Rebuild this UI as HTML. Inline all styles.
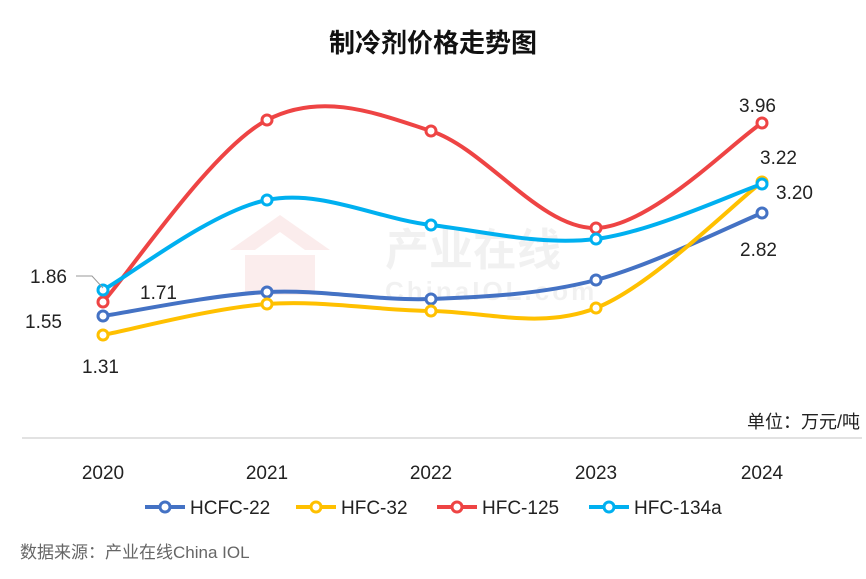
<!DOCTYPE html>
<html><head><meta charset="utf-8"><style>
body{margin:0;background:#fff;}
svg{display:block;font-family:"Liberation Sans","Noto Sans CJK SC",sans-serif;}
</style></head><body>
<svg id="s" width="866" height="579" viewBox="0 0 866 579">
<rect width="866" height="579" fill="#fff"/>
<text x="433" y="52" text-anchor="middle" font-size="26" font-weight="bold" fill="#111">制冷剂价格走势图</text>
<g opacity="0.07" fill="#c00">
<path d="M230 250 L280 215 L330 250 L305 250 L280 232 L255 250Z"/>
<rect x="245" y="255" width="70" height="40"/>
</g>
<text x="385" y="265" font-size="44" font-weight="bold" fill="#000" opacity="0.05">产业在线</text>
<text x="385" y="300" font-size="26" font-weight="bold" fill="#000" opacity="0.05" letter-spacing="3">ChinaIOL.com</text>
<line x1="22" y1="438" x2="862" y2="438" stroke="#d9d9d9" stroke-width="1.5"/>
<g font-size="19" fill="#222" text-anchor="middle">
<text x="103" y="479">2020</text><text x="267" y="479">2021</text><text x="431" y="479">2022</text><text x="596" y="479">2023</text><text x="762" y="479">2024</text>
</g>
<text x="860" y="428" font-size="18" fill="#222" text-anchor="end">单位：万元/吨</text>
<g id="lines"></g>
<g font-size="19" fill="#222">
<text x="30" y="283">1.86</text>
<polyline points="76,276 92,276 103,288" fill="none" stroke="#999" stroke-width="1"/>
<text x="140" y="299">1.71</text>
<text x="25" y="328">1.55</text>
<text x="82" y="373">1.31</text>
<text x="739" y="112">3.96</text>
<text x="760" y="164">3.22</text>
<text x="776" y="199">3.20</text>
<text x="740" y="256">2.82</text>
</g>
<g font-size="19" fill="#222">
<line x1="145" y1="507" x2="185" y2="507" stroke="#4472C4" stroke-width="4"/><circle cx="165" cy="507" r="5" fill="#fff" stroke="#4472C4" stroke-width="3"/><text x="190" y="514">HCFC-22</text>
<line x1="296" y1="507" x2="336" y2="507" stroke="#FFC000" stroke-width="4"/><circle cx="316" cy="507" r="5" fill="#fff" stroke="#FFC000" stroke-width="3"/><text x="341" y="514">HFC-32</text>
<line x1="437" y1="507" x2="477" y2="507" stroke="#EE4444" stroke-width="4"/><circle cx="457" cy="507" r="5" fill="#fff" stroke="#EE4444" stroke-width="3"/><text x="482" y="514">HFC-125</text>
<line x1="589" y1="507" x2="629" y2="507" stroke="#00B0F0" stroke-width="4"/><circle cx="609" cy="507" r="5" fill="#fff" stroke="#00B0F0" stroke-width="3"/><text x="634" y="514">HFC-134a</text>
</g>
<text x="20" y="558" font-size="17" fill="#666">数据来源：产业在线China IOL</text>
</svg>
<script>
var xs=[103,267,431,596,762];
var S=[["#4472C4",[316,292,299,280,213]],["#FFC000",[335,304,311,308,182]],["#EE4444",[302,120,131,228,123]],["#00B0F0",[290,200,225,239,184]]];
var g=document.getElementById("lines"),ns="http://www.w3.org/2000/svg",h="";
S.forEach(function(s){var y=s[1],p=[];for(var i=0;i<5;i++)p.push([xs[i],y[i]]);
var d="M"+p[0][0]+" "+p[0][1],t=0.5;
for(var i=0;i<4;i++){var p0=p[Math.max(i-1,0)],p1=p[i],p2=p[i+1],p3=p[Math.min(i+2,4)];
var c1=[p1[0]+(p2[0]-p0[0])*t/3,p1[1]+(p2[1]-p0[1])*t/3],c2=[p2[0]-(p3[0]-p1[0])*t/3,p2[1]-(p3[1]-p1[1])*t/3];
d+=" C"+c1+" "+c2+" "+p2;}
h+='<path d="'+d+'" fill="none" stroke="'+s[0]+'" stroke-width="4"/>';
p.forEach(function(q){h+='<circle cx="'+q[0]+'" cy="'+q[1]+'" r="5" fill="#fff" stroke="'+s[0]+'" stroke-width="3"/>';});});
g.innerHTML=h;
</script>
</body></html>
